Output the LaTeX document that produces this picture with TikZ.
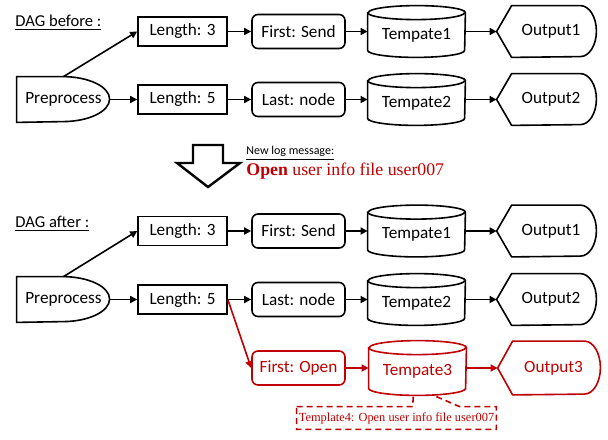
\documentclass[tikz,border=0pt]{standalone}
\usepackage{fontspec}
\setmainfont{Carlito}
\newfontfamily\tnr{Liberation Serif}
\usetikzlibrary{arrows.meta,calc,backgrounds}
\definecolor{dred}{RGB}{192,0,0}
\newcommand\cylOutline[3]{%
 \path[#3] ($(#1.north west)+(0pt,-3.5pt)$) -- ($(#1.south west)+(0pt,3.5pt)$) arc[start angle=180,end angle=360,x radius=#2,y radius=3.5pt] -- ($(#1.north east)+(0pt,-3.5pt)$) arc[start angle=0,end angle=180,x radius=#2,y radius=3.5pt] -- cycle;
 \path[#3,fill=none] ($(#1.north west)+(0pt,-3.5pt)$) arc[start angle=180,end angle=360,x radius=#2,y radius=3.5pt];}
\newcommand\outOutline[3]{%
 \path[#3] (#1.west) -- ([xshift=7.5pt]#1.north west) -- ([xshift=-8pt]#1.north east) arc[start angle=90,end angle=-90,x radius=8pt,y radius=#2] -- ([xshift=7.5pt]#1.south west) -- cycle;}
\newcommand\ppOutline[1]{%
 \path[shapeline] (#1.south west) -- (#1.north west) -- ([xshift=23pt]#1.north west) arc[start angle=90,end angle=-90,x radius=23.5pt,y radius=11.25pt] -- cycle;}
\tikzset{
 lbl/.style={inner sep=0pt, font=\fontsize{8.6pt}{10pt}\selectfont},
 lenbox/.style={lbl, draw, line width=0.8pt, minimum width=44.5pt, minimum height=14.5pt},
 rbox/.style={lbl, draw, line width=0.8pt, rounded corners=3pt, minimum width=46.5pt, minimum height=17pt},
 can/.style={lbl, minimum width=48.5pt, minimum height=25.5pt, text height=9.5pt, text depth=1.8pt},
 outp/.style={lbl, minimum width=49.5pt, minimum height=25.5pt},
 prep/.style={lbl, minimum width=46.5pt, minimum height=22.5pt},
 shapeline/.style={draw, line width=0.8pt, fill=white},
 redline/.style={draw=dred, line width=0.8pt, fill=white},
 conn/.style={draw, line width=0.8pt, -{Triangle[length=3.5pt,width=3.5pt]}},
 redd/.style={draw=dred, text=dred},
 title/.style={inner sep=0pt, anchor=west, font=\fontsize{8.3pt}{10pt}\selectfont},
}
\begin{document}
\begin{tikzpicture}[x=0.5pt,y=-0.5pt]
\useasboundingbox (0,0) rectangle (608,439);
% ---------- before ----------
\node[title] (dagb) at (15,23) {\underline{DAG before :}};
\node[lenbox] (L3a) at (182.5,31.5) {Length: 3};
\node[rbox] (FSa) at (298.5,31.5) {First: Send};
\node[can] (T1a) at (416.5,31.5) {Tempate1};
\node[outp] (O1a) at (546.5,31.5) {\hspace*{4.5pt}Output1};
\node[prep] (PPa) at (63.5,99.5) {Preprocess};
\node[lenbox] (L5a) at (182.5,99.5) {Length: 5};
\node[rbox] (LNa) at (298.5,99.5) {Last: node};
\node[can] (T2a) at (416.5,99.5) {Tempate2};
\node[outp] (O2a) at (546.5,99.5) {\hspace*{4.5pt}Output2};
% ---------- message ----------
\draw[line width=1.2pt, fill=white] (193,145) -- (223,145) -- (223,163) -- (240,163) -- (208,187) -- (177,163) -- (193,163) -- cycle;
\node[inner sep=0pt, anchor=west, font=\fontsize{6pt}{7pt}\selectfont] (nlm) at (246,153) {\underline{New log message:}};
\node[inner sep=0pt, anchor=west, text=dred, font=\tnr\fontsize{8.9pt}{10pt}\selectfont] (olm) at (246,171) {\textbf{Open} user info file user007};
% ---------- after ----------
\node[title] (daga) at (15,224) {\underline{DAG after :}};
\node[lenbox] (L3b) at (182.5,231) {Length: 3};
\node[rbox] (FSb) at (298.5,231) {First: Send};
\node[can] (T1b) at (416.5,231) {Tempate1};
\node[outp] (O1b) at (546.5,231) {\hspace*{4.5pt}Output1};
\node[prep] (PPb) at (63.5,299.5) {Preprocess};
\node[lenbox] (L5b) at (182.5,299.5) {Length: 5};
\node[rbox] (LNb) at (298.5,299.5) {Last: node};
\node[can] (T2b) at (416.5,299.5) {Tempate2};
\node[outp] (O2b) at (546.5,299.5) {\hspace*{4.5pt}Output2};
\node[rbox, redd] (FO) at (298.5,368) {First: Open};
\node[can, text=dred, minimum height=27pt] (T3) at (417.5,368) {Tempate3};
\node[outp, text=dred, minimum width=51pt, minimum height=26.5pt] (O3) at (549,368) {\hspace*{4.5pt}Output3};
\node[inner sep=0pt, text=dred, minimum width=99.5pt, minimum height=11pt, font=\tnr\fontsize{6.2pt}{7pt}\selectfont] (cb) at (396.5,418) {Template4: Open user info file user007};
\coordinate (tip) at (414,387);
% ---------- outlines ----------
\begin{scope}[on background layer]
 \path[draw=dred, line width=0.8pt, dash pattern=on 3pt off 2pt, fill=white] (cb.north west) -- ([xshift=58pt]cb.north west) -- (tip) -- ([xshift=81.5pt]cb.north west) -- (cb.north east) -- (cb.south east) -- (cb.south west) -- cycle;
 \cylOutline{T1a}{24.25pt}{shapeline}
 \cylOutline{T2a}{24.25pt}{shapeline}
 \cylOutline{T1b}{24.25pt}{shapeline}
 \cylOutline{T2b}{24.25pt}{shapeline}
 \cylOutline{T3}{24.25pt}{redline}
 \outOutline{O1a}{12.75pt}{shapeline}
 \outOutline{O2a}{12.75pt}{shapeline}
 \outOutline{O1b}{12.75pt}{shapeline}
 \outOutline{O2b}{12.75pt}{shapeline}
 \outOutline{O3}{13.25pt}{redline}
 \ppOutline{PPa}
 \ppOutline{PPb}
\end{scope}
% ---------- connectors ----------
\foreach \s in {a,b}{
 \draw[conn] (PP\s.north) -- (L3\s.west);
 \draw[conn] (PP\s.east) -- (L5\s.west);
 \draw[conn] (L3\s.east) -- (FS\s.west);
 \draw[conn] (FS\s.east) -- (T1\s.west);
 \draw[conn] (T1\s.east) -- (O1\s.west);
 \draw[conn] (L5\s.east) -- (LN\s.west);
 \draw[conn] (LN\s.east) -- (T2\s.west);
 \draw[conn] (T2\s.east) -- (O2\s.west);
}
\draw[conn, dred] (L5b.east) -- (FO.west);
\draw[conn, dred] (FO.east) -- (T3.west);
\draw[conn, dred] (T3.east) -- (O3.west);
\end{tikzpicture}
\end{document}
